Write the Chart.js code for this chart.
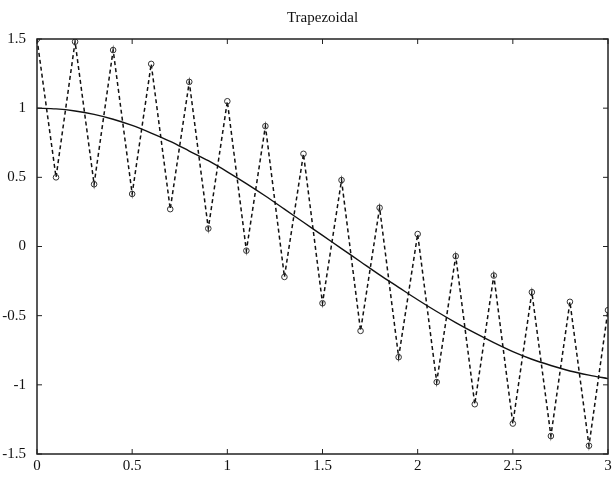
<!DOCTYPE html>
<html>
<head>
<meta charset="utf-8">
<script src="https://cdn.jsdelivr.net/npm/chart.js@4"></script>
<style>
  html, body { margin: 0; padding: 0; background: #fff; }
  #wrap { width: 616px; height: 478px; }
</style>
</head>
<body>
<div id="wrap"><canvas id="trapChart"></canvas></div>
<script>
// sample points (t)
const tValues = [0, 0.1, 0.2, 0.3, 0.4, 0.5, 0.6, 0.7, 0.8, 0.9, 1.0,
  1.1, 1.2, 1.3, 1.4, 1.5, 1.6, 1.7, 1.8, 1.9, 2.0,
  2.1, 2.2, 2.3, 2.4, 2.5, 2.6, 2.7, 2.8, 2.9, 3.0];

// trapezoidal rule result (oscillating, dashed with circles)
const trapValues = [1.5, 0.5, 1.48, 0.45, 1.42, 0.38, 1.32, 0.27, 1.19, 0.13, 1.05,
  -0.03, 0.87, -0.22, 0.67, -0.41, 0.48, -0.61, 0.28, -0.8, 0.09,
  -0.98, -0.07, -1.14, -0.21, -1.28, -0.33, -1.37, -0.4, -1.44, -0.46];

// smooth reference curve (solid)
const exactValues = [1.0, 0.995, 0.98, 0.955, 0.92, 0.875, 0.82, 0.76, 0.69, 0.62, 0.54,
  0.455, 0.365, 0.27, 0.175, 0.08, -0.015, -0.11, -0.205, -0.295, -0.385,
  -0.47, -0.55, -0.625, -0.695, -0.76, -0.815, -0.86, -0.9, -0.93, -0.955];

const xTicks = [0, 0.5, 1, 1.5, 2, 2.5, 3];
const yTicks = [-1.5, -1, -0.5, 0, 0.5, 1, 1.5];

const serif = "'Liberation Serif', 'DejaVu Serif', serif";

// box + inward tick marks, matlab style
const frameTicks = {
    id: 'frameTicks',
    afterDraw(chart) {
        const { ctx, chartArea: a, scales } = chart;
        ctx.save();
        ctx.strokeStyle = '#222';
        ctx.lineWidth = 1.5;
        ctx.strokeRect(a.left, a.top, a.right - a.left, a.bottom - a.top);
        ctx.lineWidth = 1;
        const len = 5;
        xTicks.forEach(v => {
            const px = scales.x.getPixelForValue(v);
            ctx.beginPath();
            ctx.moveTo(px, a.bottom); ctx.lineTo(px, a.bottom - len);
            ctx.moveTo(px, a.top); ctx.lineTo(px, a.top + len);
            ctx.stroke();
        });
        yTicks.forEach(v => {
            const py = scales.y.getPixelForValue(v);
            ctx.beginPath();
            ctx.moveTo(a.left, py); ctx.lineTo(a.left + len, py);
            ctx.moveTo(a.right, py); ctx.lineTo(a.right - len, py);
            ctx.stroke();
        });
        ctx.restore();
    }
};

new Chart(document.getElementById('trapChart'), {
    type: 'line',
    data: {
        datasets: [
            {
                label: 'exact',
                data: tValues.map((t, i) => ({ x: t, y: exactValues[i] })),
                borderColor: '#111',
                borderWidth: 1.4,
                pointRadius: 0,
                tension: 0.3
            },
            {
                label: 'trapezoidal',
                data: tValues.map((t, i) => ({ x: t, y: trapValues[i] })),
                borderColor: '#111',
                borderWidth: 1.5,
                borderDash: [4, 3],
                pointRadius: 2.8,
                pointBorderWidth: 1,
                pointBorderColor: '#333',
                pointBackgroundColor: 'rgba(255,255,255,0)',
                tension: 0
            }
        ]
    },
    options: {
        responsive: true,
        maintainAspectRatio: false,
        animation: false,
        layout: { padding: { left: 0, right: 8, top: 0, bottom: 0 } },
        plugins: {
            legend: { display: false },
            tooltip: { enabled: false },
            title: {
                display: true,
                fullSize: false,
                text: 'Trapezoidal',
                color: '#111',
                font: { family: serif, size: 15, weight: 'normal' },
                padding: { top: 9, bottom: 12 }
            }
        },
        scales: {
            x: {
                type: 'linear',
                min: 0,
                max: 3,
                afterBuildTicks: s => { s.ticks = xTicks.map(v => ({ value: v })); },
                afterFit: s => { s.height = 24; },
                grid: { display: false },
                border: { display: false },
                ticks: {
                    color: '#111',
                    padding: -5,
                    font: { family: serif, size: 15 },
                    callback: v => String(v)
                }
            },
            y: {
                min: -1.5,
                max: 1.5,
                afterBuildTicks: s => { s.ticks = yTicks.map(v => ({ value: v })); },
                afterFit: s => { s.width = 37; },
                grid: { display: false },
                border: { display: false },
                ticks: {
                    color: '#111',
                    padding: 3,
                    font: { family: serif, size: 15 },
                    callback: v => String(v)
                }
            }
        }
    },
    plugins: [frameTicks]
});
</script>
</body>
</html>
